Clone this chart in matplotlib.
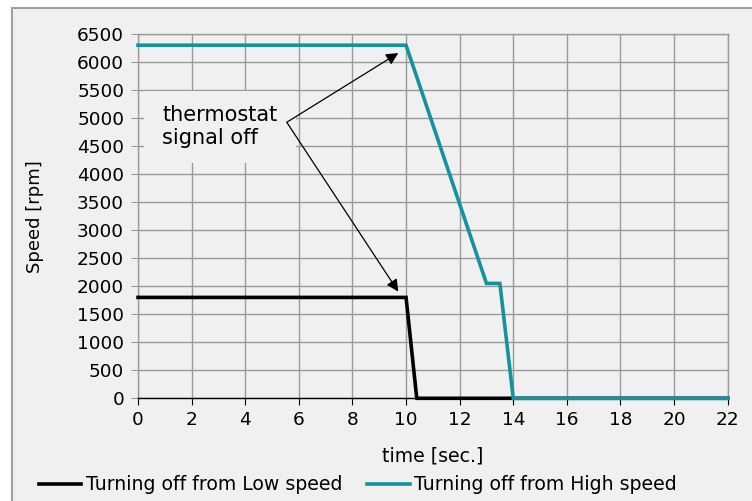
import matplotlib
matplotlib.use("Agg")
import matplotlib.pyplot as plt
from matplotlib.patches import Rectangle

# data
low_t = [0, 10, 10.4, 22]
low_rpm = [1800, 1800, 0, 0]
high_t = [0, 10, 13.0, 13.5, 14, 22]
high_rpm = [6300, 6300, 2050, 2050, 0, 0]

x_ticks = list(range(0, 23, 2))
y_ticks = list(range(0, 6501, 500))

note_text = "thermostat\nsignal off"
note_xy = (5.55, 4925)
arrow_tips = [(9.71, 6160), (9.71, 1904)]

BG = "#f0f0f0"
GRID = "#9a9a9a"
TEAL = "#14939c"

plt.rcParams["font.family"] = ["DejaVu Sans"]

fig = plt.figure(figsize=(7.52, 5.01), dpi=100)
fig.patch.set_facecolor("white")
fig.patches.append(Rectangle((12 / 752, -0.1), 1.0, 1 - 8 / 501 + 0.1,
                             transform=fig.transFigure, facecolor=BG,
                             edgecolor="#a0a0a0", linewidth=1.5, zorder=-10))

ax = fig.add_axes([138 / 752, 1 - 398.3 / 501, (727.7 - 138) / 752, (398.3 - 34) / 501])
ax.set_facecolor(BG)

ax.plot(low_t, low_rpm, color="black", lw=2.6, label="Turning off from Low speed",
        solid_joinstyle="miter", zorder=3, clip_on=False)
ax.plot(high_t, high_rpm, color=TEAL, lw=2.6, label="Turning off from High speed",
        solid_joinstyle="miter", zorder=4, clip_on=False)

ax.set_xlim(0, 22)
ax.set_ylim(0, 6500)
ax.set_xticks(x_ticks)
ax.set_yticks(y_ticks)
ax.grid(True, color=GRID, lw=1.0)
ax.set_axisbelow(True)

for s in ["top", "right", "left"]:
    ax.spines[s].set_color(GRID)
    ax.spines[s].set_linewidth(1.0)
ax.spines["bottom"].set_color("black")
ax.spines["bottom"].set_linewidth(1.0)

ax.tick_params(axis="y", length=5, color=GRID, labelsize=13.3, pad=5)
ax.tick_params(axis="x", length=5, color="black", labelsize=13.3, pad=4)

ax.set_xlabel("time [sec.]", fontsize=13.6, labelpad=13)
ax.set_ylabel("Speed [rpm]", fontsize=13, labelpad=24)

# background patch behind the note hides the grid
ax.add_patch(Rectangle((0.22, 4200), 5.68, 1290, facecolor=BG, edgecolor="none", zorder=1))
ax.text(0.9, 4850, note_text, fontsize=15, ha="left", va="center",
        linespacing=1.2, zorder=4)
for tip in arrow_tips:
    ax.annotate("", xy=tip, xytext=note_xy,
                arrowprops=dict(arrowstyle="-|>", color="black", lw=0.9,
                                mutation_scale=18, shrinkA=0, shrinkB=0),
                zorder=5)

fig.legend(loc="center", bbox_to_anchor=(358 / 752, 1 - 485 / 501), ncol=2,
           frameon=False, fontsize=13.6, handlelength=2.26, handletextpad=0.26,
           columnspacing=1.27, borderpad=0)

fig.savefig("out.png", dpi=100)
